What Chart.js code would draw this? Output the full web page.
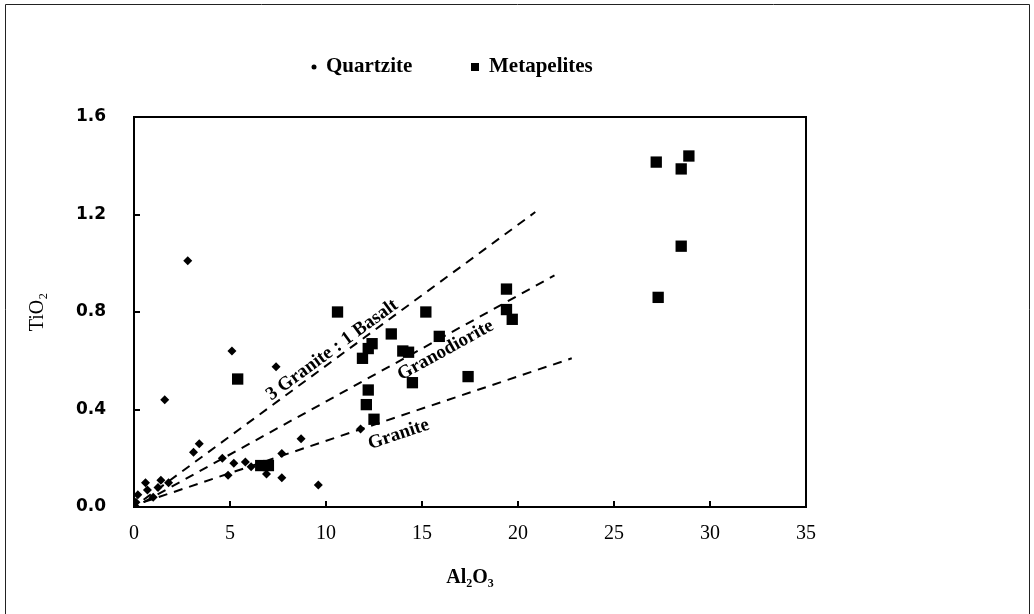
<!DOCTYPE html>
<html>
<head>
<meta charset="utf-8">
<script src="https://cdn.jsdelivr.net/npm/chart.js@4.4.0/dist/chart.umd.min.js"></script>
<style>
  html, body { margin: 0; padding: 0; background: #fff; }
</style>
</head>
<body>
<canvas id="tioChart" width="1034" height="614"></canvas>
<script>
// DATA
const quartziteAl = [2.8, 5.1, 1.6, 7.4, 3.4, 3.1, 8.7, 7.7, 9.6, 7.7, 4.9, 4.6, 5.2, 5.8, 6.1, 6.9, 11.8, 0.1, 0.2, 0.7, 1.25, 1.8, 1.4, 1.0, 0.6, 0.1];
const quartziteTi = [1.01, 0.64, 0.44, 0.575, 0.26, 0.225, 0.28, 0.22, 0.09, 0.12, 0.13, 0.2, 0.18, 0.185, 0.165, 0.135, 0.32, 0.02, 0.05, 0.07, 0.08, 0.1, 0.11, 0.04, 0.1, 0.0];

const metapeliteAl = [27.2, 28.9, 28.5, 28.5, 27.3, 19.4, 19.4, 19.7, 17.4, 10.6, 15.2, 13.4, 15.9, 14.0, 14.3, 12.4, 11.9, 12.2, 14.5, 12.2, 12.1, 12.5, 5.4, 6.6, 7.0];
const metapeliteTi = [1.415, 1.44, 1.387, 1.07, 0.86, 0.894, 0.81, 0.77, 0.535, 0.8, 0.8, 0.71, 0.7, 0.64, 0.635, 0.67, 0.61, 0.65, 0.51, 0.48, 0.42, 0.36, 0.525, 0.17, 0.17];

// mixing lines (end points)
const trendNames = ['3 Granite : 1 Basalt', 'Granodiorite', 'Granite'];
const trendAl = [[0.5, 20.9], [0.5, 21.9], [0.5, 22.8]];
const trendTi = [[0.03, 1.21], [0.02, 0.95], [0.02, 0.61]];

const xTicks = [0, 5, 10, 15, 20, 25, 30, 35];
const yTicks = [0, 0.4, 0.8, 1.2, 1.6];

const serif = '"Liberation Serif", "DejaVu Serif", serif';

const toPoints = (xs, ys) => xs.map((v, i) => ({ x: v, y: ys[i] }));

const trendSets = trendNames.map((name, i) => ({
    label: name,
    data: toPoints(trendAl[i], trendTi[i]),
    showLine: true,
    borderColor: '#000',
    borderWidth: 2,
    borderDash: [9, 7],
    pointRadius: 0,
    fill: false
}));

// labels on the dashed lines, inward ticks, frame and legend
const decor = {
    id: 'decor',
    afterDraw(chart) {
        const { ctx, chartArea: a, scales: { x, y } } = chart;
        ctx.save();

        ctx.strokeStyle = '#000';
        ctx.lineWidth = 2;
        ctx.strokeRect(a.left, a.top, a.right - a.left, a.bottom - a.top);

        xTicks.forEach(v => {
            const px = Math.round(x.getPixelForValue(v));
            ctx.beginPath();
            ctx.moveTo(px, a.bottom);
            ctx.lineTo(px, a.bottom - 6);
            ctx.stroke();
        });
        yTicks.forEach(v => {
            const py = Math.round(y.getPixelForValue(v));
            ctx.beginPath();
            ctx.moveTo(a.left, py);
            ctx.lineTo(a.left + 6, py);
            ctx.stroke();
        });

        // text along each line
        const labelAt = [10.6, 15.9, 13.5];
        const shift = [-9, 13, 17];
        ctx.fillStyle = '#000';
        ctx.font = 'bold 19px ' + serif;
        ctx.textAlign = 'center';
        ctx.textBaseline = 'middle';
        trendNames.forEach((name, i) => {
            const x0 = x.getPixelForValue(trendAl[i][0]), y0 = y.getPixelForValue(trendTi[i][0]);
            const x1 = x.getPixelForValue(trendAl[i][1]), y1 = y.getPixelForValue(trendTi[i][1]);
            const ang = Math.atan2(y1 - y0, x1 - x0);
            const t = (labelAt[i] - trendAl[i][0]) / (trendAl[i][1] - trendAl[i][0]);
            const cx = x0 + (x1 - x0) * t, cy = y0 + (y1 - y0) * t;
            ctx.save();
            ctx.translate(cx, cy);
            ctx.rotate(ang);
            ctx.fillText(name, 0, shift[i]);
            ctx.restore();
        });

        // legend
        ctx.font = 'bold 21px ' + serif;
        ctx.textAlign = 'left';
        ctx.beginPath();
        ctx.arc(314, 67, 2.5, 0, Math.PI * 2);
        ctx.fill();
        ctx.fillText('Quartzite', 326, 67);
        ctx.fillRect(471, 63, 8, 8);
        ctx.fillText('Metapelites', 489, 67);

        // scan frame round the figure
        ctx.lineWidth = 1;
        ctx.strokeStyle = '#222';
        ctx.beginPath();
        ctx.moveTo(5.5, 614);
        ctx.lineTo(5.5, 4.5);
        ctx.lineTo(1029.5, 4.5);
        ctx.lineTo(1029.5, 614);
        ctx.stroke();
        ctx.restore();
    }
};

new Chart(document.getElementById('tioChart'), {
    type: 'scatter',
    data: {
        datasets: [
            {
                label: 'Quartzite',
                data: toPoints(quartziteAl, quartziteTi),
                pointStyle: 'rectRot',
                pointRadius: 4.5,
                backgroundColor: '#000',
                borderColor: '#000',
                borderWidth: 0
            },
            {
                label: 'Metapelites',
                data: toPoints(metapeliteAl, metapeliteTi),
                pointStyle: 'rect',
                pointRadius: 8,
                backgroundColor: '#000',
                borderColor: '#000',
                borderWidth: 0
            },
            ...trendSets
        ]
    },
    options: {
        responsive: false,
        animation: false,
        layout: { padding: { top: 117, right: 228, bottom: 0, left: 0 } },
        scales: {
            x: {
                type: 'linear',
                min: 0,
                max: 35,
                afterFit: s => { s.height = 107; },
                afterBuildTicks: s => { s.ticks = xTicks.map(v => ({ value: v })); },
                grid: { display: false, drawTicks: false },
                border: { display: false },
                ticks: { color: '#000', padding: 15, font: { family: serif, size: 20 } },
                title: {
                    display: true,
                    text: 'Al₂O₃',
                    color: '#000',
                    font: { family: serif, size: 20, weight: 'bold' },
                    padding: { top: 0, bottom: 24 }
                }
            },
            y: {
                type: 'linear',
                min: 0,
                max: 1.6,
                afterFit: s => { s.width = 134; },
                afterBuildTicks: s => { s.ticks = yTicks.map(v => ({ value: v })); },
                grid: { display: false, drawTicks: false },
                border: { display: false },
                ticks: {
                    color: '#000',
                    padding: 28,
                    font: { family: '"DejaVu Sans", sans-serif', size: 17, weight: 'bold' },
                    callback: v => v.toFixed(1)
                },
                title: {
                    display: true,
                    text: 'TiO₂',
                    color: '#000',
                    font: { family: serif, size: 20 },
                    padding: { top: 26, bottom: 0 }
                }
            }
        },
        plugins: {
            legend: { display: false },
            tooltip: { enabled: false }
        }
    },
    plugins: [decor]
});
</script>
</body>
</html>
